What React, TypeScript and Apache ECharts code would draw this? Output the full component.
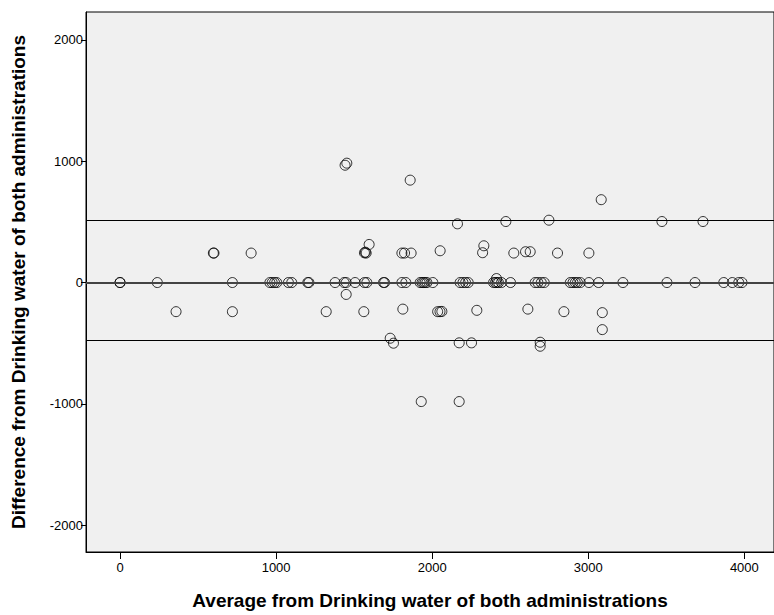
import React, { useEffect, useRef } from "react";
import * as echarts from "echarts";

// Average (x) and difference (y) of the two administrations
const avgValues: number[] = [
  0, 0, 239, 720, 960, 975, 990, 1004, 1079, 1100, 1203, 1210, 1378, 1436, 1449, 1506, 1566, 1581,
  1688, 1695, 1806, 1831, 1923, 1935, 1945, 1955, 1966, 2004, 2179, 2197, 2214, 2231, 2393, 2405,
  2415, 2425, 2444, 2502, 2660, 2677, 2699, 2718, 2885, 2902, 2917, 2931, 2949, 3004, 3066, 3222,
  3504, 3684, 3868, 3923, 3964, 3985,
  2412,
  598, 602, 840, 1566, 1572, 1577, 1596, 1806, 1823, 1865, 2051, 2323, 2331, 2523, 2598, 2628, 2803, 3004,
  359, 720, 1321, 1449, 1562, 1812, 2035, 2050, 2062, 2286, 2613, 2844, 3090, 3090,
  1731, 1752, 2173, 2252, 2692, 2692, 2162, 2472, 2748, 3083, 3472, 3735,
  1442, 1453, 1859, 1930, 2173,
];
const diffValues: number[] = [
  0, 0, 0, 0, 0, 0, 0, 0, 0, 0, 0, 0, 0, 0, 0, 0, 0, 0,
  0, 0, 0, 0, 0, 0, 0, 0, 0, 0, 0, 0, 0, 0, 0, 0,
  0, 0, 0, 0, 0, 0, 0, 0, 0, 0, 0, 0, 0, 0, 0, 0,
  0, 0, 0, 0, 0, 0,
  33,
  243, 243, 243, 245, 250, 243, 314, 243, 243, 243, 262, 246, 303, 243, 254, 254, 243, 243,
  -240, -240, -240, -98, -240, -219, -240, -240, -238, -229, -219, -240, -248, -388,
  -459, -500, -497, -497, -492, -525, 484, 503, 514, 683, 503, 503,
  967, 984, 844, -981, -981,
];

const meanDiff = 0;
const upperLimit = 514;
const lowerLimit = -478;

const xTicks = [0, 1000, 2000, 3000, 4000];
const yTicks = [-2000, -1000, 0, 1000, 2000];

export default function App() {
  const ref = useRef<HTMLDivElement>(null);
  useEffect(() => {
    if (!ref.current) return;
    const chart = echarts.init(ref.current, undefined, { renderer: "svg" });
    const data = avgValues.map((x, i) => [x, diffValues[i]]);
    const font = "'Liberation Sans', Arial, sans-serif";
    chart.setOption({
      animation: false,
      grid: {
        left: 86,
        top: 12,
        right: -3,
        bottom: 57,
        show: true,
        backgroundColor: "#f0f0f0",
        borderColor: "#000",
        borderWidth: 1,
      },
      xAxis: {
        type: "value",
        min: -218,
        max: 4190,
        name: "Average from Drinking water of both administrations",
        nameLocation: "middle",
        nameGap: 39,
        nameTextStyle: { fontFamily: font, fontSize: 19, fontWeight: "bold", color: "#000" },
        splitLine: { show: false },
        axisLine: { show: true, onZero: false, lineStyle: { color: "#000", width: 1 } },
        axisTick: { show: true, length: 7, customValues: xTicks, lineStyle: { color: "#000" } },
        axisLabel: {
          customValues: xTicks,
          formatter: (v: number) => String(v),
          fontFamily: font,
          fontSize: 13,
          color: "#000",
          margin: 9,
        },
      },
      yAxis: {
        type: "value",
        min: -2221,
        max: 2230,
        name: "Difference from Drinking water of both administrations",
        nameLocation: "middle",
        nameGap: 58,
        nameTextStyle: { fontFamily: font, fontSize: 19, fontWeight: "bold", color: "#000" },
        splitLine: { show: false },
        axisLine: { show: true, onZero: false, lineStyle: { color: "#000", width: 1 } },
        axisTick: { show: true, length: 5, customValues: yTicks, lineStyle: { color: "#000" } },
        axisLabel: {
          customValues: yTicks,
          formatter: (v: number) => String(v),
          fontFamily: font,
          fontSize: 13,
          color: "#000",
          margin: 3,
        },
      },
      series: [
        {
          type: "scatter",
          data,
          symbol: "circle",
          symbolSize: 10,
          itemStyle: { color: "rgba(0,0,0,0)", borderColor: "#000", borderWidth: 1 },
          silent: true,
          z: 3,
          markLine: {
            silent: true,
            symbol: "none",
            label: { show: false },
            data: [
              { yAxis: upperLimit, lineStyle: { color: "#000", width: 1.2, type: "solid" } },
              { yAxis: meanDiff, lineStyle: { color: "#444", width: 2, type: "solid" } },
              { yAxis: lowerLimit, lineStyle: { color: "#000", width: 1.2, type: "solid" } },
            ],
          },
        },
      ],
    });
    return () => chart.dispose();
  }, []);
  return (
    <div
      ref={ref}
      style={{ position: "fixed", left: 0, top: 0, width: 774, height: 615, background: "#fff" }}
    />
  );
}
